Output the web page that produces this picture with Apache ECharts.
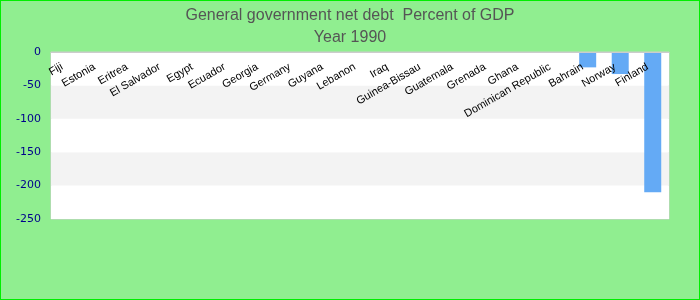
<!DOCTYPE html>
<html><head><meta charset="utf-8">
<script src="https://cdn.jsdelivr.net/npm/echarts@6/dist/echarts.min.js"></script>
<style>html,body{margin:0;padding:0;}#c{width:700px;height:300px;box-sizing:border-box;border:1px solid #00ee00;}</style>
</head><body><div id="c"></div>
<script>
const categories = ["Fiji","Estonia","Eritrea","El Salvador","Egypt","Ecuador","Georgia","Germany","Guyana","Lebanon","Iraq","Guinea-Bissau","Guatemala","Grenada","Ghana","Dominican Republic","Bahrain","Norway","Finland"];
const values = [null,null,null,null,null,null,null,null,null,null,null,null,null,null,null,null,-23,-33,-210];
const titleText = "General government net debt  Percent of GDP";
const subtitleText = "Year 1990";
const chart = echarts.init(document.getElementById('c'), null, {renderer:'canvas'});
chart.setOption({
  backgroundColor: '#90ee90',
  animation: false,
  title: {
    text: titleText, subtext: subtitleText, left: 'center', top: 2, itemGap: 6,
    textStyle: {fontFamily: 'Liberation Sans, Arial', fontSize: 16, fontWeight: 'normal', color: '#555'},
    subtextStyle: {fontFamily: 'Liberation Sans, Arial', fontSize: 16, color: '#555'}
  },
  grid: {left: 50, right: 30, top: 51, bottom: 80, show: true, backgroundColor: '#fff', borderColor: '#ccc', borderWidth: 1},
  xAxis: {
    type: 'category', data: categories, position: 'top', z: 10,
    axisLine: {show: true, onZero: false, lineStyle: {color: '#ccc', width: 1}}, axisTick: {show: false},
    axisLabel: {inside: true, rotate: -30, interval: 0, fontFamily: 'Liberation Sans, Arial', fontSize: 11, color: '#000', margin: 11, padding: [0, 6, 0, 0]}
  },
  yAxis: {
    type: 'value', min: -250, max: 0, interval: 50,
    axisLine: {show: false}, axisTick: {show: false},
    splitLine: {show: false},
    splitArea: {show: true, areaStyle: {color: ['#ffffff', '#f3f3f3']}},
    axisLabel: {fontFamily: 'DejaVu Sans', fontSize: 11, color: '#00008b', margin: 10}
  },
  series: [{type: 'bar', data: values, barWidth: 17, itemStyle: {color: '#64aaf5'}}]
});
</script></body></html>
